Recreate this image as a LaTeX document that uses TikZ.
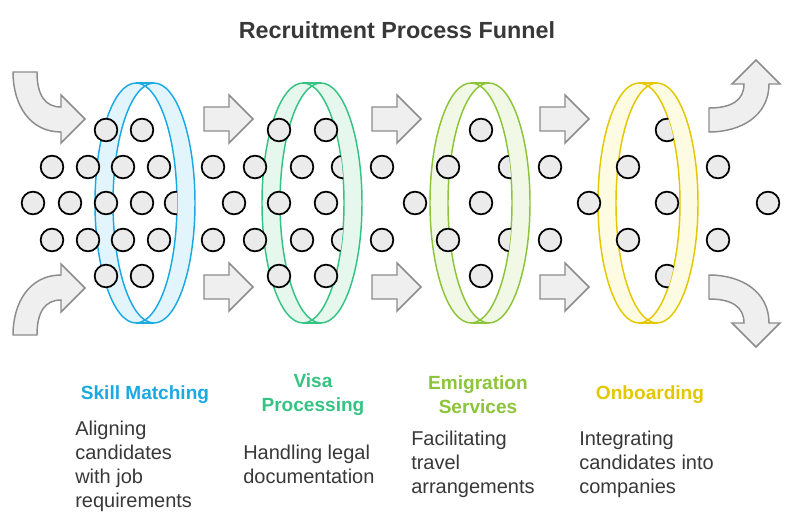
\documentclass[tikz,border=0pt]{standalone}
\usepackage{fontspec}
\setmainfont{Liberation Sans}
\usetikzlibrary{positioning}
\definecolor{skill}{HTML}{1BA9E1}
\definecolor{skillbg}{HTML}{E3F5FC}
\definecolor{visa}{HTML}{34C383}
\definecolor{visabg}{HTML}{E6F7EE}
\definecolor{emig}{HTML}{8CC43A}
\definecolor{emigbg}{HTML}{F2F8E6}
\definecolor{onb}{HTML}{E3C800}
\definecolor{onbbg}{HTML}{FEFBE3}
\definecolor{arrowgray}{HTML}{8C8C8C}
\definecolor{arrowbg}{HTML}{EFEFEF}
\definecolor{dotbg}{HTML}{EBEBEB}
\definecolor{txt}{HTML}{383838}
\tikzstyle{dot} = [circle, draw=black, fill=dotbg, line width=1.3pt, minimum size=17pt, inner sep=0pt]
\tikzstyle{blockarrow} = [draw=arrowgray, fill=arrowbg, line width=1.1pt, line join=miter]
\tikzstyle{head} = [font=\bfseries\fontsize{14.3}{18}\selectfont, align=center]
\tikzstyle{desc} = [font=\fontsize{15}{18}\selectfont, text=txt, align=left, anchor=north west, inner sep=0pt]

\begin{document}
\begin{tikzpicture}[x=0.75pt, y=-0.75pt]
        \useasboundingbox (0,0) rectangle (794,528);

        \node (title) at (397,30) [font=\bfseries\fontsize{17.5}{20}\selectfont, text=txt] {Recruitment Process Funnel};

        % rings
        \foreach \cx/\col in {136/skill, 303/visa, 471/emig, 639/onb} {
            \fill[\col bg] (\cx,203) ellipse [x radius=41, y radius=120];
            \fill[\col bg] (\cx+18,203) ellipse [x radius=41, y radius=120];
            \fill[\col bg] (\cx,83) rectangle (\cx+18,323);
            \begin{scope}
                \clip (\cx,203) ellipse [x radius=41, y radius=120];
                \fill[white] (\cx+18,203) ellipse [x radius=41, y radius=120];
            \end{scope}
            \draw[\col, line width=1.1pt] (\cx,203) ellipse [x radius=41, y radius=120];
            \draw[\col, line width=1.1pt] (\cx+18,203) ellipse [x radius=41, y radius=120];
            \draw[\col, line width=1.1pt] (\cx,83) -- (\cx+18,83) (\cx,323) -- (\cx+18,323);
        }

        % dots
        \foreach \x/\y [count=\i] in {106/130, 142/130, 52/167, 88/167, 123/167, 159/167, 213/167, 255/167,
            33/203, 70/203, 106/203, 142/203, 234/203, 52/240, 88/240, 123/240, 159/240, 213/240, 255/240,
            106/276, 142/276, 279/130, 326/130, 302/167, 382/167, 448/167, 279/203, 326/203, 415/203,
            302/240, 382/240, 448/240, 279/276, 326/276, 481/130, 481/203, 481/276, 550/167, 628/167,
            718/167, 589/203, 667/203, 768/203, 550/240, 628/240, 718/240}
            \node (d\i) [dot] at (\x,\y) {};
        % dots half behind a ring
        \foreach \x/\y/\cx [count=\i] in {176/203/136, 343/167/303, 343/240/303, 510/167/471, 510/240/471, 667/130/639, 667/276/639} {
            \begin{scope}
                \clip (\cx,203) ellipse [x radius=41, y radius=120];
                \node (h\i) [dot] at (\x,\y) {};
            \end{scope}
        }

        % straight arrows
        \foreach \ax in {204, 372, 540}
            \foreach \ay in {119, 287}
                \draw[blockarrow] (\ax,\ay-12) -- (\ax+25,\ay-12) -- (\ax+25,\ay-24) -- (\ax+49,\ay)
                    -- (\ax+25,\ay+24) -- (\ax+25,\ay+12) -- (\ax,\ay+12) -- cycle;

        % curved arrows
        \draw[blockarrow] (13,72) -- (37,72) .. controls (37,95) and (45,107) .. (61,107) -- (61,95) -- (85,119)
            -- (61,143) -- (61,132) .. controls (30,132) and (13,105) .. (13,72) -- cycle;
        \draw[blockarrow] (13,335) -- (37,335) .. controls (37,312) and (45,300) .. (61,300) -- (61,312) -- (85,288)
            -- (61,264) -- (61,275) .. controls (30,275) and (13,302) .. (13,335) -- cycle;
        \draw[blockarrow] (709,132) -- (709,108) .. controls (732,108) and (744,100) .. (744,84) -- (732,84) -- (756,60)
            -- (780,84) -- (769,84) .. controls (769,115) and (742,132) .. (709,132) -- cycle;
        \draw[blockarrow] (709,275) -- (709,299) .. controls (732,299) and (744,307) .. (744,323) -- (732,323) -- (756,347)
            -- (780,323) -- (769,323) .. controls (769,292) and (742,275) .. (709,275) -- cycle;

        % labels
        \node (l1) at (145,395) [head, text=skill] {Skill Matching};
        \node (l2) at (313,395) [head, text=visa] {Visa\\Processing};
        \node (l3) at (478,395) [head, text=emig] {Emigration\\Services};
        \node (l4) at (650,395) [head, text=onb] {Onboarding};

        \node (t1) at (75,421) [desc] {Aligning\\candidates\\with job\\requirements};
        \node (t2) at (243,445) [desc] {Handling legal\\documentation};
        \node (t3) at (411,431) [desc] {Facilitating\\travel\\arrangements};
        \node (t4) at (579,431) [desc] {Integrating\\candidates into\\companies};

    \end{tikzpicture}
\end{document}
